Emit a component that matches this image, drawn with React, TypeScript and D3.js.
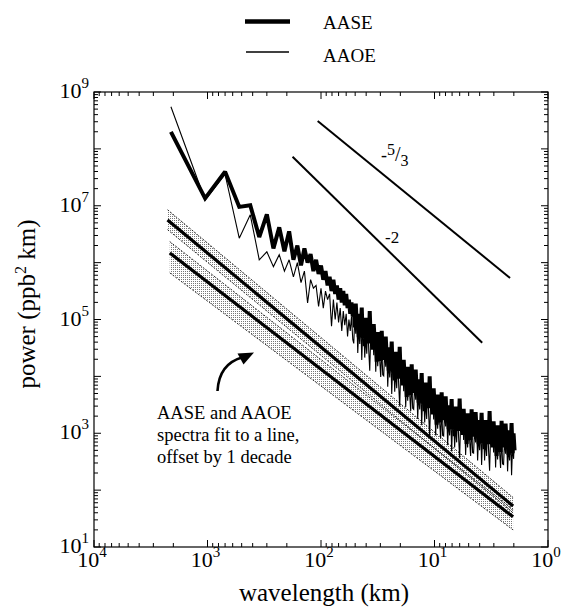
import React from "react";
import * as d3 from "d3";

const W = 562;
const H = 608;
const PLOT = { left: 94, right: 548, top: 92, bottom: 547 };

// x categories: harmonics of the fundamental wavelength, then a fine high-frequency grid
const baseWavelength = 2100; // km
const lowCount = 40;
const hfStepDecades = 0.0088;

// log10 power, AASE (thick), harmonics 1..40
const aaseLow = [
  8.30, 7.13, 7.60, 6.98, 7.01, 6.45, 6.85, 6.25, 6.62, 6.20,
  6.55, 6.05, 6.30, 5.95, 6.25, 6.00, 6.15, 5.85, 6.05, 5.80,
  5.95, 5.70, 5.85, 5.60, 5.75, 5.50, 5.70, 5.45, 5.60, 5.35,
  5.55, 5.30, 5.50, 5.25, 5.45, 5.20, 5.35, 5.10, 5.30, 5.05,
];
// log10 power, AAOE (thin), harmonics 1..40
const aaoeLow = [
  8.74, 7.10, 7.55, 6.43, 6.84, 6.05, 6.19, 5.93, 6.14, 5.85,
  6.05, 5.75, 6.00, 5.65, 5.85, 5.29, 5.70, 5.55, 5.60, 5.23,
  5.55, 5.20, 5.50, 5.35, 5.45, 4.88, 5.35, 5.00, 5.30, 4.95,
  5.20, 4.80, 5.15, 4.90, 5.10, 4.70, 5.00, 4.80, 5.05, 4.65,
];
// log10 power, AASE, high-frequency part
const aaseHigh = [
  5.23, 4.86, 5.28, 4.93, 5.08, 4.69, 5.10, 4.81, 5.21, 4.67,
  4.90, 4.53, 5.03, 4.72, 4.93, 4.58, 5.15, 4.61, 4.81, 4.47,
  4.92, 4.60, 4.78, 4.26, 4.78, 4.46, 4.62, 4.27, 4.80, 4.33,
  4.66, 4.29, 4.70, 4.35, 4.49, 4.10, 4.51, 4.21, 4.61, 4.07,
  4.30, 3.93, 4.43, 4.11, 4.31, 3.96, 4.52, 3.98, 4.18, 3.84,
  4.29, 3.98, 4.16, 3.64, 4.17, 3.86, 4.02, 3.67, 4.21, 3.74,
  4.07, 3.71, 4.12, 3.77, 3.92, 3.54, 3.95, 3.65, 4.06, 3.52,
  3.75, 3.39, 3.89, 3.57, 3.78, 3.44, 4.00, 3.46, 3.67, 3.33,
  3.79, 3.47, 3.66, 3.15, 3.68, 3.37, 3.53, 3.19, 3.72, 3.26,
  3.60, 3.23, 3.65, 3.30, 3.46, 3.07, 3.49, 3.20, 3.60, 3.07,
  3.31, 2.95, 3.47, 3.16, 3.38, 3.04, 3.61, 3.09, 3.30, 2.97,
  3.43, 3.12, 3.32, 2.81, 3.35, 3.04, 3.21, 2.88, 3.42, 2.96,
  3.30, 2.94, 3.37, 3.03, 3.19, 2.81, 3.23, 2.94, 3.36, 2.83,
  3.07, 2.72, 3.23, 2.92, 3.15, 2.81, 3.39, 2.86, 3.08, 2.75,
  3.21, 2.91, 3.10, 2.60, 3.14, 2.83, 3.01, 2.67, 3.22, 2.76,
  3.10, 2.75, 3.17, 2.84, 3.00, 2.62, 3.05, 2.76, 3.18, 2.65,
  3.00, 2.70,
];
// log10 power, AAOE, high-frequency part
const aaoeHigh = [
  4.58, 5.01, 4.75, 5.08, 4.41, 4.84, 4.57, 5.06, 4.29, 4.82,
  4.90, 4.33, 4.71, 4.40, 4.98, 4.46, 4.10, 4.73, 4.51, 4.82,
  4.37, 4.80, 4.08, 4.56, 4.18, 4.63, 4.29, 3.99, 4.53, 4.03,
  4.01, 4.44, 4.17, 4.50, 3.82, 4.25, 3.98, 4.46, 3.69, 4.22,
  4.30, 3.73, 4.11, 3.79, 4.36, 3.84, 3.47, 4.10, 3.88, 4.19,
  3.74, 4.18, 3.46, 3.94, 3.57, 4.03, 3.69, 3.39, 3.94, 3.44,
  3.42, 3.86, 3.59, 3.92, 3.25, 3.69, 3.42, 3.90, 3.14, 3.67,
  3.75, 3.19, 3.57, 3.25, 3.83, 3.32, 2.95, 3.58, 3.37, 3.68,
  3.24, 3.67, 2.96, 3.45, 3.08, 3.54, 3.20, 2.91, 3.45, 2.96,
  2.95, 3.38, 3.12, 3.45, 2.79, 3.22, 2.96, 3.45, 2.68, 3.22,
  3.31, 2.75, 3.15, 2.84, 3.43, 2.92, 2.56, 3.21, 3.00, 3.32,
  2.88, 3.32, 2.62, 3.11, 2.75, 3.21, 2.88, 2.60, 3.15, 2.66,
  2.65, 3.09, 2.84, 3.18, 2.52, 2.96, 2.70, 3.19, 2.44, 2.98,
  3.07, 2.52, 2.91, 2.60, 3.20, 2.69, 2.34, 2.98, 2.78, 3.10,
  2.66, 3.11, 2.40, 2.90, 2.54, 3.00, 2.68, 2.39, 2.95, 2.46,
  2.45, 2.90, 2.64, 2.99, 2.33, 2.77, 2.52, 3.01, 2.26, 2.80,
  2.55, 2.95,
];

// fitted lines (offset by one decade), endpoints in km and log10 power
const aaseFitRange = [2250, 2.03];
const aaseFitCenter = [6.75, 1.72];
const aaseFitUpper = [6.93, 1.87];
const aaseFitLower = [6.58, 1.6];
const aaoeFitRange = [2150, 2.03];
const aaoeFitCenter = [6.17, 1.53];
const aaoeFitUpper = [6.37, 1.66];
const aaoeFitLower = [5.82, 1.3];

// reference slope lines
const slope53Range = [107, 2.16];
const slope53Power = [8.49, 5.73];
const slope2Range = [178, 3.8];
const slope2Power = [7.86, 4.59];

const xTickLabels = [4, 3, 2, 1, 0];
const yTickLabels = [9, 7, 5, 3, 1];

const FONT = "Liberation Serif";
const fontStyle = { fontFamily: "'Liberation Serif', serif" };

const x = d3.scaleLog().domain([1e4, 1]).range([PLOT.left, PLOT.right]);
const y = d3.scaleLog().domain([10, 1e9]).range([PLOT.bottom, PLOT.top]);

function wavelengths(): number[] {
  const out: number[] = [];
  for (let i = 0; i < lowCount; i++) out.push(baseWavelength / (i + 1));
  const last = baseWavelength / lowCount;
  for (let k = 1; k <= aaseHigh.length; k++) out.push(last / Math.pow(10, k * hfStepDecades));
  return out;
}

const line = d3
  .line<[number, number]>()
  .x((d) => x(d[0]))
  .y((d) => y(Math.pow(10, d[1])));

function seriesPath(low: number[], high: number[]) {
  const wl = wavelengths();
  const vals = [...low, ...high];
  return line(vals.map((v, i) => [wl[i], v] as [number, number])) || "";
}

function segPath(range: number[], pw: number[]) {
  return line([
    [range[0], pw[0]],
    [range[1], pw[1]],
  ]) || "";
}

function bandPath(range: number[], up: number[], lo: number[]) {
  const area = d3
    .area<[number, number, number]>()
    .x((d) => x(d[0]))
    .y0((d) => y(Math.pow(10, d[2])))
    .y1((d) => y(Math.pow(10, d[1])));
  return area([
    [range[0], up[0], lo[0]],
    [range[1], up[1], lo[1]],
  ]) || "";
}

const isMajor = (t: number) => Math.abs(Math.log10(t) - Math.round(Math.log10(t))) < 1e-9;

export default function App() {
  const xt = x.ticks();
  const yt = y.ticks();
  return (
    <svg width={W} height={H} viewBox={`0 0 ${W} ${H}`} fontFamily={FONT} style={{ display: "block", position: "absolute", left: 0, top: 0, background: "#fff", ...fontStyle }}>
      <defs>
        <pattern id="stipA" width="2" height="2" patternUnits="userSpaceOnUse">
          <rect x="0" y="0" width="1" height="1" fill="#777" />
        </pattern>
        <pattern id="stipB" width="2" height="2" patternUnits="userSpaceOnUse">
          <rect x="1" y="1" width="1" height="1" fill="#777" />
        </pattern>
        <clipPath id="plotClip">
          <rect x={PLOT.left} y={PLOT.top} width={PLOT.right - PLOT.left} height={PLOT.bottom - PLOT.top} />
        </clipPath>
      </defs>
      <rect x={0} y={0} width={W} height={H} fill="#fff" />

      {/* legend */}
      <line x1={245} x2={290} y1={21.5} y2={21.5} stroke="#000" strokeWidth={4.5} />
      <text x={323} y={28.5} style={fontStyle} fontSize={19}>AASE</text>
      <line x1={246} x2={289} y1={52} y2={52} stroke="#000" strokeWidth={1.3} />
      <text x={323} y={62} style={fontStyle} fontSize={19}>AAOE</text>

      <g clipPath="url(#plotClip)">
        {/* fit bands */}
        <path d={bandPath(aaseFitRange, aaseFitUpper, aaseFitLower)} fill="url(#stipA)" />
        <path d={bandPath(aaoeFitRange, aaoeFitUpper, aaoeFitLower)} fill="url(#stipB)" />
        {[
          [aaseFitRange, aaseFitUpper],
          [aaseFitRange, aaseFitLower],
          [aaoeFitRange, aaoeFitUpper],
          [aaoeFitRange, aaoeFitLower],
        ].map(([r, p], i) => (
          <path key={i} d={segPath(r, p)} stroke="#000" strokeWidth={0.8} strokeDasharray="2 1.5" fill="none" />
        ))}
        <path d={segPath(aaseFitRange, aaseFitCenter)} stroke="#000" strokeWidth={3.2} fill="none" />
        <path d={segPath(aaoeFitRange, aaoeFitCenter)} stroke="#000" strokeWidth={3.2} fill="none" />

        {/* spectra */}
        <path d={seriesPath(aaseLow, aaseHigh)} stroke="#000" strokeWidth={4} fill="none" strokeLinejoin="miter" strokeMiterlimit={2} />
        <path d={seriesPath(aaoeLow, aaoeHigh)} stroke="#000" strokeWidth={1.1} fill="none" strokeLinejoin="miter" strokeMiterlimit={3} />

        {/* reference slopes */}
        <path d={segPath(slope53Range, slope53Power)} stroke="#000" strokeWidth={2} fill="none" />
        <path d={segPath(slope2Range, slope2Power)} stroke="#000" strokeWidth={2} fill="none" />
      </g>

      {/* slope labels */}
      <text x={381} y={161} style={fontStyle} fontSize={18}>
        <tspan>-</tspan>
        <tspan dy={-6} fontSize={16}>5</tspan>
        <tspan dy={6} fontSize={20}>/</tspan>
        <tspan dy={5} fontSize={16}>3</tspan>
      </text>
      <text x={385} y={243} style={fontStyle} fontSize={17}>-2</text>

      {/* frame */}
      <rect x={PLOT.left} y={PLOT.top} width={PLOT.right - PLOT.left} height={PLOT.bottom - PLOT.top} fill="none" stroke="#000" strokeWidth={1.2} />

      {/* x ticks (bottom and top, inward) */}
      {xt.map((t, i) => {
        const len = isMajor(t) ? 7 : 4;
        const px = x(t);
        return (
          <g key={`xt${i}`}>
            <line x1={px} x2={px} y1={PLOT.bottom} y2={PLOT.bottom - len} stroke="#000" strokeWidth={1} />
            <line x1={px} x2={px} y1={PLOT.top} y2={PLOT.top + len} stroke="#000" strokeWidth={1} />
          </g>
        );
      })}
      {yt.map((t, i) => {
        const len = isMajor(t) ? 7 : 4;
        const py = y(t);
        return (
          <g key={`yt${i}`}>
            <line x1={PLOT.left} x2={PLOT.left + len} y1={py} y2={py} stroke="#000" strokeWidth={1} />
            <line x1={PLOT.right} x2={PLOT.right - len} y1={py} y2={py} stroke="#000" strokeWidth={1} />
          </g>
        );
      })}

      {/* tick labels */}
      {xTickLabels.map((e) => (
        <text key={`xl${e}`} x={x(Math.pow(10, e)) - 2} y={567} textAnchor="middle" style={fontStyle} fontSize={22}>
          <tspan>10</tspan>
          <tspan dy={-10} fontSize={15}>{e}</tspan>
        </text>
      ))}
      {yTickLabels.map((e) => (
        <text key={`yl${e}`} x={89} y={y(Math.pow(10, e)) + 6} textAnchor="end" style={fontStyle} fontSize={22}>
          <tspan>10</tspan>
          <tspan dy={-10} fontSize={15}>{e}</tspan>
        </text>
      ))}

      {/* axis titles */}
      <text x={324} y={601} textAnchor="middle" style={fontStyle} fontSize={25}>wavelength (km)</text>
      <text transform="translate(35,304) rotate(-90)" textAnchor="middle" style={fontStyle} fontSize={25}>
        <tspan>power (ppb</tspan>
        <tspan dy={-9} fontSize={16}>2</tspan>
        <tspan dy={9}> km)</tspan>
      </text>

      {/* annotation */}
      <path d="M217.5,391 Q219,364 242,357.5" stroke="#000" strokeWidth={2.6} fill="none" />
      <path d="M254,352.5 L237.5,353.5 L243.5,364.5 Z" fill="#000" />
      <text style={fontStyle} fontSize={18.5}>
        <tspan x={157} y={419}>AASE and AAOE</tspan>
        <tspan x={157} y={441}>spectra fit to a line,</tspan>
        <tspan x={157} y={463}>offset by 1 decade</tspan>
      </text>
    </svg>
  );
}
